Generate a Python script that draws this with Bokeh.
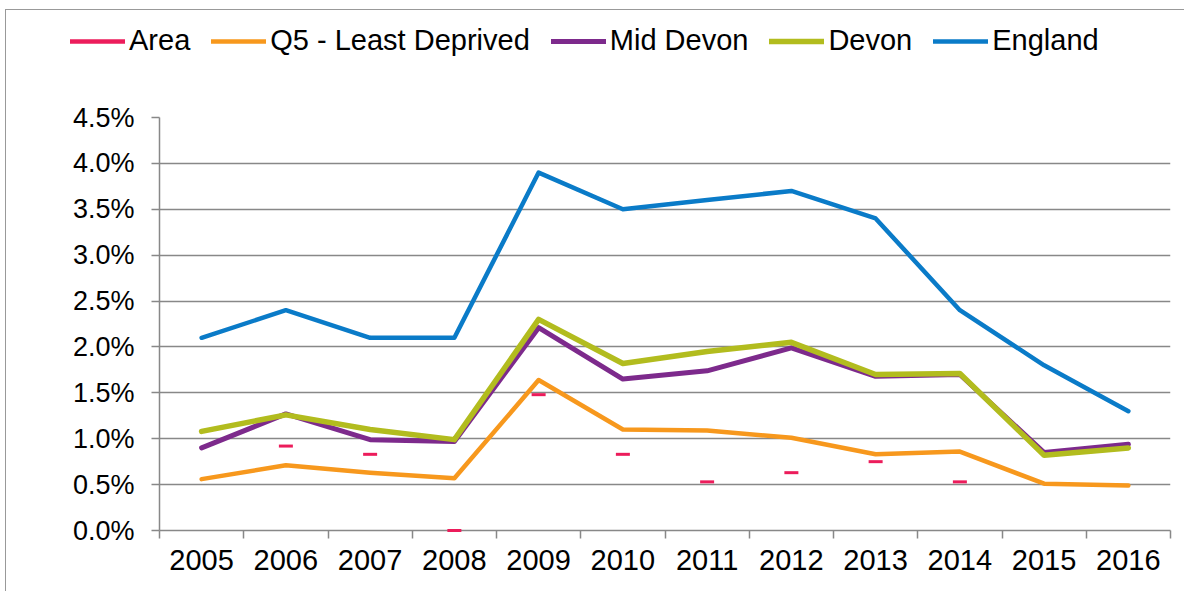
import math
from bokeh.plotting import figure
from bokeh.layouts import column
from bokeh.models import FixedTicker, PrintfTickFormatter, Legend, LegendItem
from bokeh.embed import file_html
from bokeh.resources import INLINE

years = ["2005", "2006", "2007", "2008", "2009", "2010", "2011", "2012", "2013", "2014", "2015", "2016"]
area = [math.nan, 0.92, 0.83, 0.0, 1.48, 0.83, 0.53, 0.63, 0.75, 0.53, math.nan, math.nan]
q5_least_deprived = [0.56, 0.71, 0.63, 0.57, 1.64, 1.10, 1.09, 1.01, 0.83, 0.86, 0.51, 0.49]
mid_devon = [0.90, 1.27, 0.99, 0.97, 2.21, 1.65, 1.74, 1.99, 1.68, 1.70, 0.85, 0.94]
devon = [1.08, 1.26, 1.10, 0.99, 2.30, 1.82, 1.95, 2.05, 1.70, 1.71, 0.82, 0.90]
england = [2.1, 2.4, 2.1, 2.1, 3.9, 3.5, 3.6, 3.7, 3.4, 2.4, 1.8, 1.3]
y_ticks = [0.0, 0.5, 1.0, 1.5, 2.0, 2.5, 3.0, 3.5, 4.0, 4.5]
series_names = ["Area", "Q5 - Least Deprived", "Mid Devon", "Devon", "England"]

FONT = "Liberation Sans"
GRID = "#888888"
C_AREA = "#EC1C5B"
C_Q5 = "#F7981D"
C_MID = "#7D2A8C"
C_DEVON = "#B2BC1E"
C_ENG = "#0A7BC8"
colors = [C_AREA, C_Q5, C_MID, C_DEVON, C_ENG]
widths = [4.5, 4.5, 5, 5.5, 4.5]

n = len(years)
xc = [i + 0.5 for i in range(n)]

W = 1178

# ---- main chart ----
p = figure(width=W, height=511, x_range=(0, n), y_range=(0, 4.5),
           output_backend="svg", toolbar_location=None,
           min_border_left=153, min_border_right=14, min_border_top=37, min_border_bottom=61)
p.frame_align = False
p.outline_line_color = None
p.background_fill_color = "white"
p.border_fill_color = "white"

p.xaxis.ticker = FixedTicker(ticks=xc, minor_ticks=list(range(n + 1)))
p.xaxis.major_label_overrides = {x: y for x, y in zip(xc, years)}
p.xaxis.major_tick_out = 0
p.xaxis.major_tick_in = 0
p.xaxis.minor_tick_out = 8
p.xaxis.minor_tick_in = 0
p.xaxis.minor_tick_line_color = GRID
p.xaxis.minor_tick_line_width = 1.5
p.xaxis.axis_line_color = GRID
p.xaxis.axis_line_width = 1.5
p.xaxis.major_label_text_font = FONT
p.xaxis.major_label_text_font_size = "29px"
p.xaxis.major_label_text_color = "black"
p.xaxis.major_label_standoff = 11

p.yaxis.ticker = FixedTicker(ticks=y_ticks)
p.yaxis.formatter = PrintfTickFormatter(format="%.1f%%")
p.yaxis.major_tick_out = 8
p.yaxis.major_tick_in = 0
p.yaxis.minor_tick_line_color = None
p.yaxis.major_tick_line_color = GRID
p.yaxis.major_tick_line_width = 1.5
p.yaxis.axis_line_color = GRID
p.yaxis.axis_line_width = 1.5
p.yaxis.major_label_text_font = FONT
p.yaxis.major_label_text_font_size = "27px"
p.yaxis.major_label_text_color = "black"
p.yaxis.major_label_standoff = 17

p.xgrid.grid_line_color = None
p.ygrid.ticker = FixedTicker(ticks=y_ticks)
p.ygrid.grid_line_color = GRID
p.ygrid.grid_line_width = 1.5

p.line(xc, q5_least_deprived, line_color=C_Q5, line_width=4.5, line_join="round", line_cap="round")
p.line(xc, mid_devon, line_color=C_MID, line_width=5, line_join="round", line_cap="round")
p.line(xc, devon, line_color=C_DEVON, line_width=5.5, line_join="round", line_cap="round")
p.line(xc, england, line_color=C_ENG, line_width=4.5, line_join="round", line_cap="round")
p.scatter(xc, area, marker="dash", size=14, line_color=C_AREA, line_width=3, level="overlay")

# ---- legend strip ----
lf = figure(width=W, height=70, x_range=(0, 1), y_range=(0, 1),
            x_axis_type=None, y_axis_type=None, output_backend="svg", toolbar_location=None,
            min_border=0, min_border_left=0, min_border_right=0, min_border_top=0, min_border_bottom=0)
lf.frame_align = False
lf.outline_line_color = None
lf.xgrid.visible = False
lf.ygrid.visible = False
items = []
for name, c, w in zip(series_names, colors, widths):
    # off-range stub so the legend can draw its swatch
    r = lf.line(x=[-5, -4], y=[-5, -5], line_color=c, line_width=w, line_cap="round")
    items.append(LegendItem(label=name, renderers=[r]))
legend = Legend(items=items, orientation="horizontal", location=(64, 23))
legend.padding = 0
legend.margin = 0
legend.spacing = 21
legend.glyph_width = 55
legend.glyph_height = 30
legend.label_standoff = 4
legend.label_text_font = FONT
legend.label_text_font_size = "29px"
legend.label_text_color = "black"
legend.border_line_color = None
legend.background_fill_alpha = 0
lf.add_layout(legend, "center")

layout = column(lf, p, spacing=0)
layout.styles = {"margin-left": "5px", "margin-top": "9px",
                 "border-left": "1px solid #999999", "border-top": "1px solid #999999"}

open("out.html", "w").write(file_html(layout, INLINE))
